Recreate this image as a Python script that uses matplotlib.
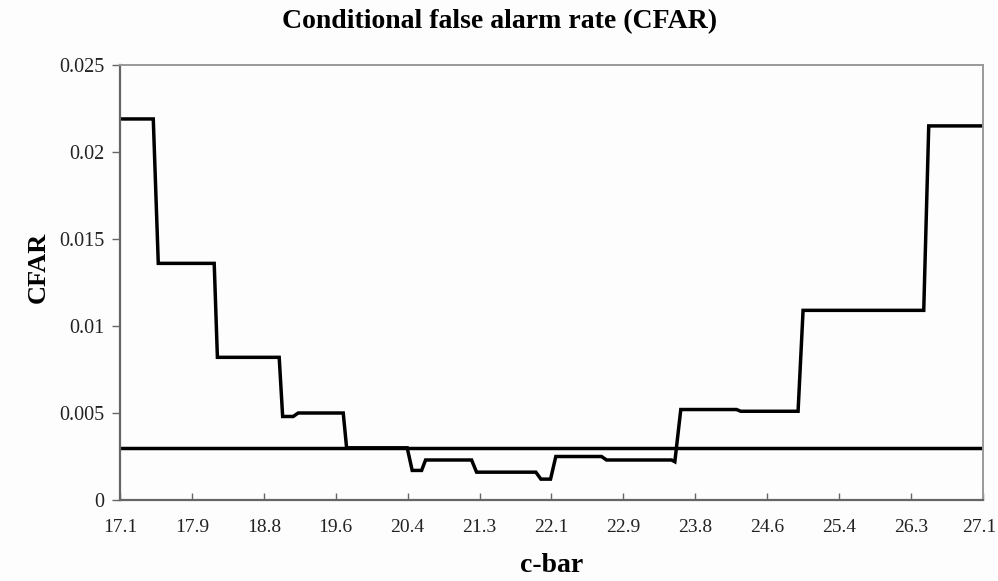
import matplotlib
matplotlib.use("Agg")
import matplotlib.pyplot as plt
import matplotlib.transforms as mtransforms

# Data (c-bar vs CFAR, step-like curve)
cbar = [17.1, 17.486, 17.544, 18.192, 18.229, 18.945, 18.985, 19.107, 19.165,
        19.687, 19.726, 20.428, 20.486, 20.595, 20.641, 21.174, 21.232, 21.919,
        21.977, 22.089, 22.150, 22.680, 22.738, 23.491, 23.529, 23.598, 24.243,
        24.293, 24.957, 25.015, 26.413, 26.471, 27.1]
cfar = [0.0219, 0.0219, 0.0136, 0.0136, 0.0082, 0.0082, 0.0048, 0.0048, 0.0050,
        0.0050, 0.0030, 0.0030, 0.0017, 0.0017, 0.0023, 0.0023, 0.0016, 0.0016,
        0.0012, 0.0012, 0.0025, 0.0025, 0.0023, 0.0023, 0.0022, 0.0052, 0.0052,
        0.0051, 0.0051, 0.0109, 0.0109, 0.0215, 0.0215]
threshold = 0.0030

x_tick_labels = ["17.1", "17.9", "18.8", "19.6", "20.4", "21.3", "22.1",
                 "22.9", "23.8", "24.6", "25.4", "26.3", "27.1"]
y_ticks = [0, 0.005, 0.01, 0.015, 0.02, 0.025]
y_tick_labels = ["0", "0.005", "0.01", "0.015", "0.02", "0.025"]

plt.rcParams['font.family'] = ['Liberation Serif', 'DejaVu Serif']

fig = plt.figure(figsize=(9.98, 5.81), dpi=100)
fig.patch.set_facecolor('#fdfdfd')
ax = fig.add_axes([0.1202, 0.1394, 0.8648, 0.7487])
ax.set_facecolor('#fdfdfd')

ax.plot(cbar, cfar, color='black', lw=2.5, solid_joinstyle='miter')
ax.axhline(threshold, color='black', lw=2.5)

ax.set_xlim(17.1, 27.1)
ax.set_ylim(0, 0.025)
n = len(x_tick_labels)
xt = [17.1 + i * (27.1 - 17.1) / (n - 1) for i in range(n)]
ax.set_xticks(xt)
ax.set_xticklabels(x_tick_labels)
ax.set_yticks(y_ticks)
ax.set_yticklabels(y_tick_labels)

ax.tick_params(axis='x', direction='in', length=5, width=1, color='#666',
               labelsize=14, pad=14, labelcolor='#222')
ax.tick_params(axis='y', direction='out', length=6, width=1, color='#666',
               labelsize=14.5, pad=5, labelcolor='#222')

# keep the last x tick label inside the figure edge
last = ax.get_xticklabels()[-1]
last.set_transform(last.get_transform() +
                   mtransforms.ScaledTranslation(-4 / 100, 0, fig.dpi_scale_trans))

for s in ['left', 'bottom']:
    ax.spines[s].set_color('#666')
    ax.spines[s].set_linewidth(1.6)
for s in ['top', 'right']:
    ax.spines[s].set_color('#999')
    ax.spines[s].set_linewidth(1.4)

fig.text(0.501, 0.962, "Conditional false alarm rate (CFAR)", ha='center', va='center',
         fontsize=20, fontweight='bold')
fig.text(0.553, 0.026, "c-bar", ha='center', va='center', fontsize=20, fontweight='bold')
fig.text(0.038, 0.54, "CFAR", ha='center', va='center', fontsize=19, fontweight='bold',
         rotation=90)

fig.savefig("out.png", dpi=100, facecolor=fig.get_facecolor())
